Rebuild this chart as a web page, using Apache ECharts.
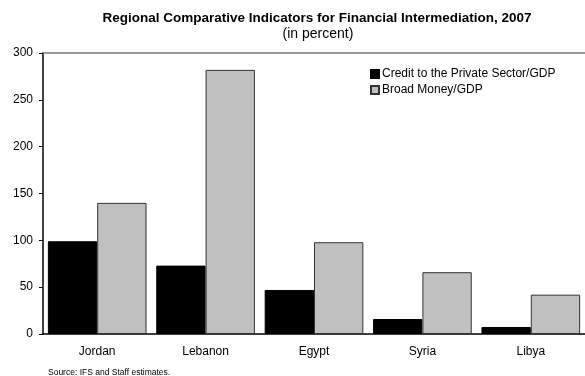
<!DOCTYPE html>
<html>
<head>
<meta charset="utf-8">
<script src="https://cdn.jsdelivr.net/npm/echarts@6/dist/echarts.min.js"></script>
<style>
  html, body { margin: 0; padding: 0; background: #fff; }
  #main { width: 585px; height: 376px; }
</style>
</head>
<body>
<div id="main"></div>
<script>
// data
var countries = ['Jordan', 'Lebanon', 'Egypt', 'Syria', 'Libya'];
var creditGdp = [99, 73, 47, 16, 7.5];
var broadMoneyGdp = [140, 282, 98, 66, 42];
var seriesNames = ['Credit to the Private Sector/GDP', 'Broad Money/GDP'];

var chart = echarts.init(document.getElementById('main'));
var font = 'Liberation Sans, Arial, sans-serif';

var option = {
  animation: false,
  textStyle: { fontFamily: font },
  title: [{
    text: 'Regional Comparative Indicators for Financial Intermediation, 2007',
    left: 312, top: 6, textAlign: 'center',
    textStyle: { fontSize: 13.5, fontWeight: 'bold', color: '#000', fontFamily: font }
  }, {
    text: '(in percent)',
    left: 313, top: 22, textAlign: 'center',
    textStyle: { fontSize: 14, fontWeight: 'normal', color: '#000', fontFamily: font }
  }, {
    text: 'Source: IFS and Staff estimates.',
    left: 43, top: 363,
    textStyle: { fontSize: 8.5, fontWeight: 'normal', color: '#000', fontFamily: font }
  }],
  legend: {
    orient: 'vertical',
    left: 365, top: 63,
    icon: 'rect',
    itemWidth: 8, itemHeight: 8, itemGap: 4,
    textStyle: { fontSize: 12, color: '#000', fontFamily: font, padding: [0, 0, 0, -2] },
    data: seriesNames
  },
  grid: { left: 43, right: -3, top: 53, bottom: 42 },
  xAxis: [{
    type: 'category',
    data: countries,
    axisLine: { lineStyle: { color: '#000', width: 1.5 } },
    axisTick: { inside: true, length: 4, lineStyle: { color: '#888' } },
    axisLabel: { fontSize: 12, color: '#000', margin: 12, fontFamily: font }
  }, {
    type: 'category',
    position: 'top',
    data: countries,
    axisLine: { lineStyle: { color: '#777', width: 1.5 } },
    axisTick: { show: false },
    axisLabel: { show: false }
  }],
  yAxis: {
    type: 'value',
    min: 0, max: 300, interval: 50,
    axisLine: { show: true, lineStyle: { color: '#000', width: 1.5 } },
    axisTick: { show: true, length: 4, lineStyle: { color: '#000' } },
    axisLabel: { fontSize: 12, color: '#000', margin: 10, fontFamily: font },
    splitLine: { show: false }
  },
  series: [{
    name: seriesNames[0],
    type: 'bar',
    data: creditGdp,
    barGap: '0%',
    barCategoryGap: '9%',
    itemStyle: { color: '#000', borderColor: '#000', borderWidth: 1 }
  }, {
    name: seriesNames[1],
    type: 'bar',
    data: broadMoneyGdp,
    barGap: '0%',
    barCategoryGap: '9%',
    itemStyle: { color: '#c0c0c0', borderColor: '#333', borderWidth: 1 }
  }]
};

chart.setOption(option);
</script>
</body>
</html>
